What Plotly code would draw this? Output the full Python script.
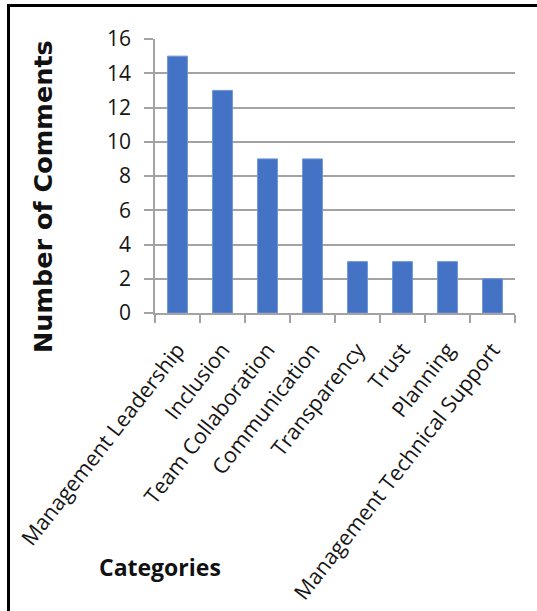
import plotly.graph_objects as go

# Comment counts per category
categories = [
    "Management Leadership",
    "Inclusion",
    "Team Collaboration",
    "Communication",
    "Transparency",
    "Trust",
    "Planning",
    "Management Technical Support",
]
comments = [15, 13, 9, 9, 3, 3, 3, 2]
y_ticks = [0, 2, 4, 6, 8, 10, 12, 14, 16]

W, H = 537, 611
L, R, T, B = 155, 22, 39, 298
plot_w = W - L - R
plot_h = H - T - B

def px_x(px):
    return (px - L) / plot_w

def px_y(py):
    return (H - B - py) / plot_h

TICK_FONT = "Open Sans, Lato, sans-serif"
GRID = "#a3a3a3"
TEXT = "#151515"

fig = go.Figure(
    go.Bar(
        x=categories,
        y=comments,
        marker=dict(color="#4472C4", line=dict(color="#6b93d8", width=1)),
        width=0.44,
    )
)

fig.update_layout(
    width=W,
    height=H,
    margin=dict(l=L, r=R, t=T, b=B, pad=0, autoexpand=False),
    paper_bgcolor="white",
    plot_bgcolor="white",
    showlegend=False,
    font=dict(family=TICK_FONT, color=TEXT),
)

fig.update_xaxes(
    type="category",
    automargin=False,
    tickangle=-52,
    tickfont=dict(size=21.5, family=TICK_FONT, color=TEXT),
    ticklabelstandoff=14,
    showgrid=False,
    showline=True,
    linecolor=GRID,
    linewidth=1.5,
    ticks="outside",
    ticklen=8,
    tickcolor=GRID,
    tickwidth=1.5,
    tickson="boundaries",
    range=[-0.5, 7.5],
)

fig.update_yaxes(
    range=[0, 16],
    automargin=False,
    tickvals=y_ticks,
    tickfont=dict(size=21, family=TICK_FONT, color=TEXT),
    ticklabelstandoff=9,
    showgrid=True,
    gridcolor=GRID,
    gridwidth=1.5,
    showline=True,
    linecolor=GRID,
    linewidth=1.5,
    ticks="outside",
    ticklen=9,
    tickcolor=GRID,
    tickwidth=1.5,
    zeroline=False,
)

# Axis titles
fig.add_annotation(
    text="<b>Number of Comments</b>",
    xref="paper", yref="paper",
    x=px_x(43), y=px_y(197),
    showarrow=False, textangle=-90,
    font=dict(size=25.5, family="DejaVu Sans, sans-serif", color="#111111"),
    xanchor="center", yanchor="middle",
)
fig.add_annotation(
    text="<b>Categories</b>",
    xref="paper", yref="paper",
    x=px_x(160), y=px_y(567),
    showarrow=False,
    font=dict(size=23, family=TICK_FONT, color="#111111"),
    xanchor="center", yanchor="middle",
)

# Frame lines along the top and left edges
fig.add_shape(type="line", xref="paper", yref="paper",
              x0=px_x(8.5), x1=px_x(W + 5), y0=px_y(5.5), y1=px_y(5.5),
              line=dict(color="black", width=3))
fig.add_shape(type="line", xref="paper", yref="paper",
              x0=px_x(8.5), x1=px_x(8.5), y0=px_y(4), y1=px_y(H + 5),
              line=dict(color="black", width=3))

fig.write_html("out.html")
